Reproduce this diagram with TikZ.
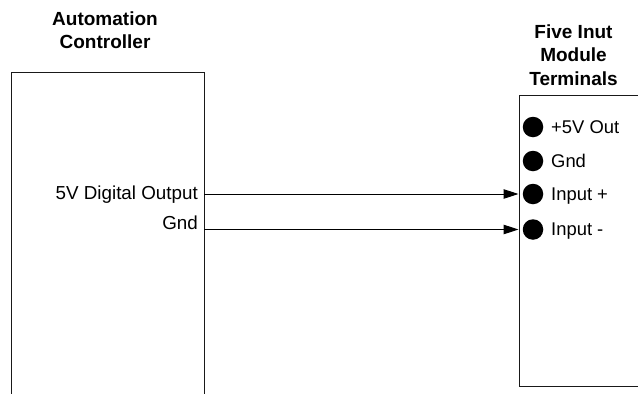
\documentclass[tikz,border=0pt]{standalone}
\usepackage{fontspec}
\setmainfont{Liberation Sans}
\usetikzlibrary{arrows.meta}
\tikzset{
  boxline/.style={draw=black!90, line width=1pt},
  wire/.style={draw=black, line width=1pt, -{Triangle[length=15pt,width=9.5pt]}},
  terminal/.style={circle, fill=black, minimum size=20.5pt, inner sep=0pt},
  title/.style={font=\fontsize{19}{23.5}\selectfont\bfseries, align=center, anchor=center},
  lab/.style={font=\fontsize{18.8}{22}\selectfont, inner sep=0pt},
  tlab/.style={font=\fontsize{18.4}{22}\selectfont, inner sep=0pt, anchor=base west},
}
\begin{document}
\begin{tikzpicture}[x=1pt,y=-1pt]
\useasboundingbox (0,0) rectangle (638,394);
\fill[white] (0,0) rectangle (638,394);
% controller box (runs off the bottom)
\coordinate (cbl) at (11.5,394);
\coordinate (ctl) at (11.5,72);
\coordinate (ctr) at (204,72);
\coordinate (cbr) at (204,394);
\draw[boxline] (cbl) -- (ctl) -- (ctr) -- (cbr);
% terminal box (runs off the right)
\coordinate (ttr) at (638,95);
\coordinate (ttl) at (519.5,95);
\coordinate (tbl) at (519.5,386);
\coordinate (tbr) at (638,386);
\draw[boxline] (ttr) -- (ttl) -- (tbl) -- (tbr);
% titles
\node[title] (ctitle) at (105,30) {Automation\\Controller};
\node[title] (ttitle) at (573.5,55) {Five Inut\\Module\\Terminals};
% terminals
\node[terminal] (t1) at (533,127) {};
\node[terminal] (t2) at (533,161) {};
\node[terminal] (t3) at (533,194) {};
\node[terminal] (t4) at (533,229.5) {};
\node[tlab] (l1) at (551,133.5) {+5V Out};
\node[tlab] (l2) at (551,167.5) {Gnd};
\node[tlab] (l3) at (551,200.5) {Input +};
\node[tlab] (l4) at (551,235) {Input -};
% controller labels
\node[lab,anchor=base east] (o1) at (198,199.5) {5V Digital Output};
\node[lab,anchor=base east] (o2) at (198,229.5) {Gnd};
% connectors
\coordinate (p1) at (204,194);
\coordinate (p2) at (204,229.5);
\coordinate (e3) at (518.5,194);
\coordinate (e4) at (518.5,229.5);
\draw[wire] (p1) -- (e3);
\draw[wire] (p2) -- (e4);
\end{tikzpicture}
\end{document}
